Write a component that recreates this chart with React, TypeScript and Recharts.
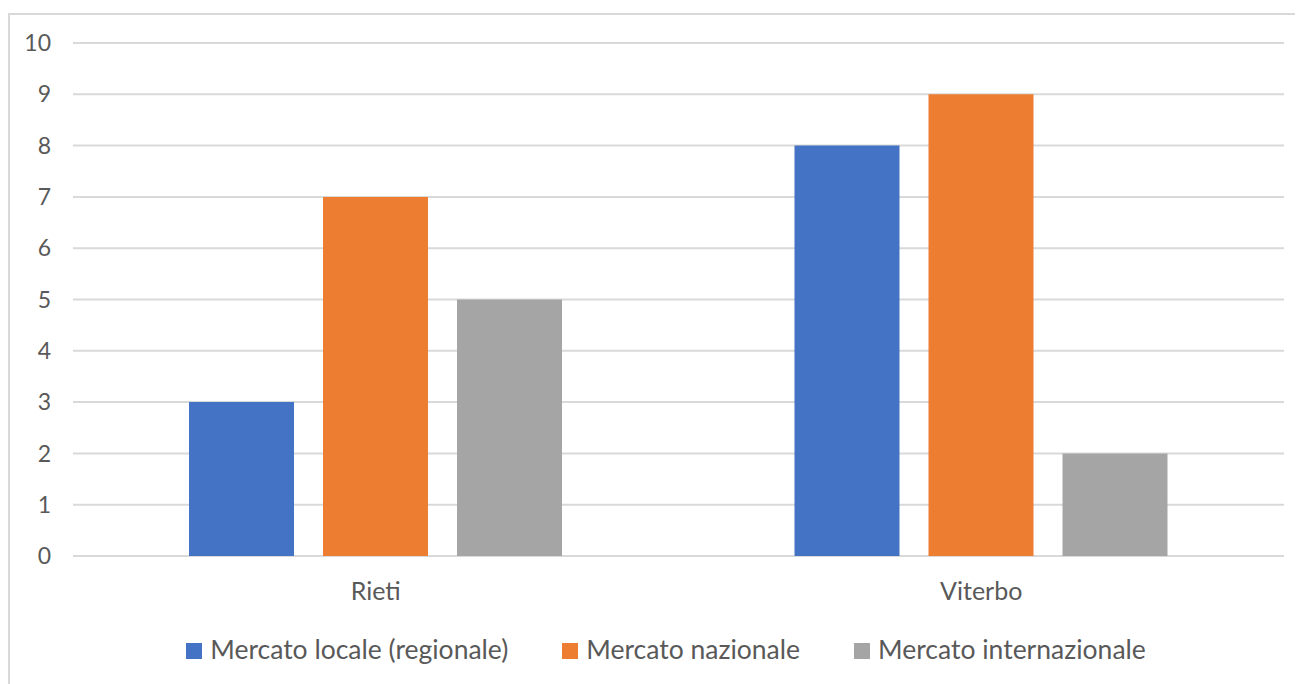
import React from 'react';
import { BarChart, Bar, XAxis, YAxis, CartesianGrid, Legend } from 'recharts';

const categories = ['Rieti', 'Viterbo'];
const seriesNames = ['Mercato locale (regionale)', 'Mercato nazionale', 'Mercato internazionale'];
const locale = [3, 8];
const nazionale = [7, 9];
const internazionale = [5, 2];
const yTicks = [0, 1, 2, 3, 4, 5, 6, 7, 8, 9, 10];

const colors = ['#4472C4', '#ED7D31', '#A5A5A5'];
const keys = ['locale', 'nazionale', 'internazionale'];
const textColor = '#595959';
const font = 'Lato, "Noto Sans", sans-serif';

const data = categories.map((name, i) => ({
  name,
  locale: locale[i],
  nazionale: nazionale[i],
  internazionale: internazionale[i],
}));

const LegendContent = () => (
  <div
    style={{
      height: 30,
      display: 'flex',
      justifyContent: 'center',
      alignItems: 'center',
      paddingLeft: 38,
      fontFamily: font,
      fontSize: 26.5,
      lineHeight: '30px',
      color: textColor,
    }}
  >
    {seriesNames.map((n, i) => (
      <div key={n} style={{ display: 'flex', alignItems: 'center', marginLeft: i === 0 ? 0 : 54 }}>
        <span
          style={{
            width: 16,
            height: 16,
            background: colors[i],
            marginRight: 8,
            position: 'relative',
            top: 2,
            display: 'inline-block',
          }}
        />
        <span>{n}</span>
      </div>
    ))}
  </div>
);

const App: React.FC = () => {
  return (
    <div
      style={{
        marginTop: 5,
        width: 1293,
        height: 669,
        borderLeft: '2px solid #d9d9d9',
        borderTop: '2px solid #d9d9d9',
        background: '#fff',
      }}
    >
      <BarChart
        width={1293}
        height={669}
        data={data}
        margin={{ top: 28, right: 19, left: 0, bottom: 20 }}
        barSize={105}
        barGap={29}
      >
        <CartesianGrid horizontal vertical={false} stroke="#d9d9d9" strokeWidth={2} />
        <XAxis
          dataKey="name"
          axisLine={false}
          tickLine={false}
          tickSize={0}
          tickMargin={26}
          height={78}
          tick={{ fill: textColor, fontSize: 25, fontFamily: font }}
        />
        <YAxis
          domain={[0, 10]}
          ticks={yTicks}
          interval={0}
          width={63}
          axisLine={false}
          tickLine={false}
          tickSize={0}
          tickMargin={22}
          tick={{ fill: textColor, fontSize: 23, fontFamily: font }}
        />
        <Legend verticalAlign="bottom" align="center" content={LegendContent} />
        {keys.map((k, i) => (
          <Bar key={k} dataKey={k} name={seriesNames[i]} fill={colors[i]} isAnimationActive={false} />
        ))}
      </BarChart>
    </div>
  );
};

export default App;
